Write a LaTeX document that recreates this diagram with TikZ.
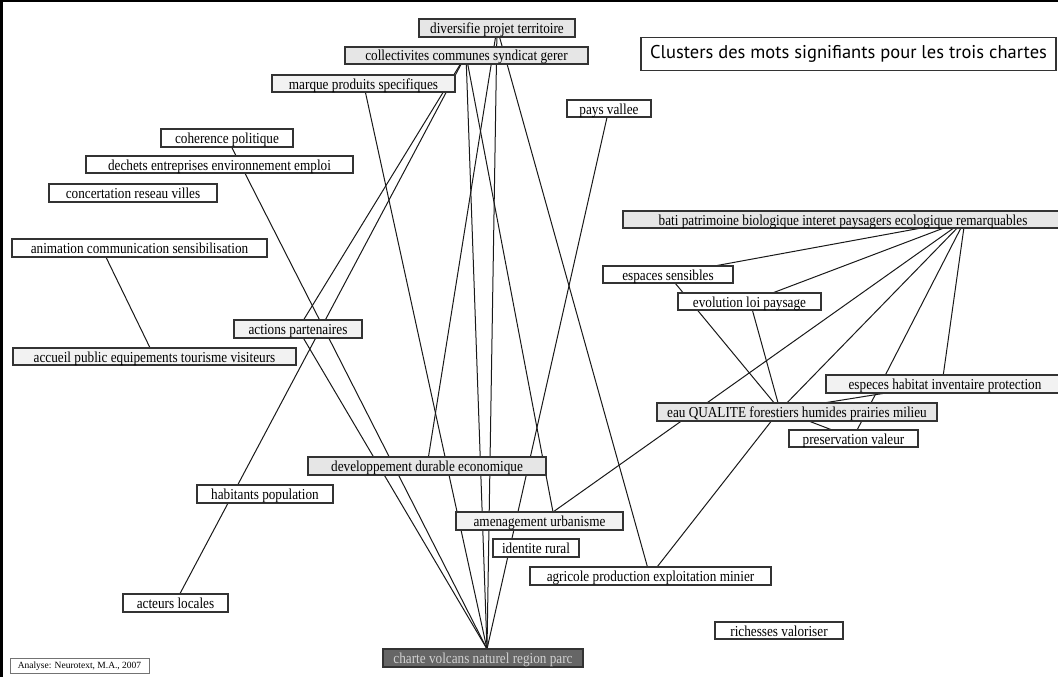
\documentclass[tikz,border=0pt]{standalone}
\usepackage{fontspec}
\setmainfont{Liberation Serif}
\newfontfamily\lblfont[FakeStretch=0.87]{Liberation Serif}
\newfontfamily\titlefont{PT Sans}
\pgfdeclarelayer{bg}
\pgfsetlayers{bg,main}
\definecolor{lg}{HTML}{E6E6E6}
\definecolor{vlg}{HTML}{F2F2F2}
\definecolor{dg}{HTML}{666666}
\definecolor{bd}{HTML}{333333}
\tikzset{
  box/.style={draw=bd, line width=1.1pt, rectangle, inner sep=0pt, fill=white,
    text height=13pt, text depth=2pt, font=\lblfont\fontsize{15.2}{17}\selectfont},
  edge/.style={draw=black!90, line width=1pt},
  frameline/.style={draw=black, line width=2.5pt}
}
\begin{document}
\begin{tikzpicture}[x=1pt,y=-1pt]
\useasboundingbox (0,0) rectangle (1058,677);
\coordinate (f-tl) at (0,1.25);
\coordinate (f-tr) at (1058,1.25);
\coordinate (f-bl) at (1.25,677);
\draw[frameline] (f-bl) -- (1.25,1.25) -- (f-tr);

% label boxes
\node[box, fill=lg,  minimum width=156pt, minimum height=18pt] (div)   at (497,28)    {diversifie projet territoire};
\node[box, fill=lg,  minimum width=243pt, minimum height=17pt] (col)   at (466.5,55.5){collectivites communes syndicat gerer};
\node[box, fill=vlg, minimum width=183pt, minimum height=17pt] (mar)   at (363.5,83.5){marque produits specifiques};
\node[draw=bd, line width=1.1pt, fill=white, inner sep=0pt, minimum width=415pt, minimum height=33pt,
      font=\titlefont\fontsize{18.5}{20}\selectfont] (title) at (848.5,54) {Clusters des mots signifiants pour les trois chartes};
\node[box, minimum width=84pt,  minimum height=17pt] (pays)  at (609,108.5) {pays vallee};
\node[box, minimum width=132pt, minimum height=18pt] (coh)   at (227,138)   {coherence politique};
\node[box, minimum width=267pt, minimum height=17pt] (dech)  at (219.5,164.5){dechets entreprises environnement emploi};
\node[box, minimum width=168pt, minimum height=18pt] (conc)  at (133,193)   {concertation reseau villes};
\node[box, minimum width=255pt, minimum height=18pt] (anim)  at (139.5,248) {animation communication sensibilisation};
\node[box, fill=lg, minimum width=440pt, minimum height=17pt] (bati) at (843,219.5) {bati patrimoine biologique interet paysagers ecologique remarquables};
\node[box, minimum width=130pt, minimum height=17pt] (esp)   at (668,274.5) {espaces sensibles};
\node[box, minimum width=143pt, minimum height=17pt] (evo)   at (749.5,301.5){evolution loi paysage};
\node[box, fill=vlg, minimum width=128pt, minimum height=18pt] (act) at (298,329) {actions partenaires};
\node[box, fill=vlg, minimum width=283pt, minimum height=17pt] (acc) at (154.5,356.5) {accueil public equipements tourisme visiteurs};
\node[box, fill=vlg, minimum width=238pt, minimum height=18pt] (esc) at (945,384) {especes habitat inventaire protection};
\node[box, fill=lg,  minimum width=280pt, minimum height=18pt] (eau) at (797,412) {eau QUALITE forestiers humides prairies milieu};
\node[box, minimum width=129pt, minimum height=17pt] (pres)  at (853.5,438.5){preservation valeur};
\node[box, fill=lg,  minimum width=238pt, minimum height=18pt] (dev) at (427,466) {developpement durable economique};
\node[box, minimum width=136pt, minimum height=18pt] (hab)   at (265,494)   {habitants population};
\node[box, fill=vlg, minimum width=167pt, minimum height=18pt] (amen) at (539.5,521) {amenagement urbanisme};
\node[box, minimum width=86pt,  minimum height=18pt] (ident) at (536,548)   {identite rural};
\node[box, minimum width=241pt, minimum height=18pt] (agr)   at (650.5,576) {agricole production exploitation minier};
\node[box, minimum width=105pt, minimum height=18pt] (actl)  at (175.5,603) {acteurs locales};
\node[box, minimum width=128pt, minimum height=17pt] (rich)  at (779,630.5) {richesses valoriser};
\node[box, fill=dg, text=black!18, minimum width=200pt, minimum height=18pt] (charte) at (483,658) {charte volcans naturel region parc};
\node[draw=black!55, line width=0.7pt, fill=white, inner sep=0pt, minimum width=139pt, minimum height=15pt,
      text height=8pt, text depth=2pt, font=\fontsize{9.5}{11}\selectfont] (ana) at (79.5,665.5) {Analyse: Neurotext, M.A., 2007};

% graph vertices
\coordinate (p-div)  at (497,28);
\coordinate (p-col)  at (466,55);
\coordinate (p-mar)  at (363.5,83.5);
\coordinate (p-pays) at (609,108.5);
\coordinate (p-coh)  at (227,138);
\coordinate (p-anim) at (102,249);
\coordinate (p-act)  at (298,329);
\coordinate (p-acc)  at (154,356);
\coordinate (p-bati) at (965,220);
\coordinate (p-esp)  at (668,274.5);
\coordinate (p-evo)  at (750,301.5);
\coordinate (p-eau)  at (780,410);
\coordinate (p-esc)  at (942,384);
\coordinate (p-pres) at (853,438);
\coordinate (p-dev)  at (427,466);
\coordinate (p-amen) at (553,512);
\coordinate (p-agr)  at (650,576);
\coordinate (p-actl) at (175,603);
\coordinate (p-ch)   at (487,649);

\begin{pgfonlayer}{bg}
\draw[edge] (p-coh) -- (p-ch);
\draw[edge] (p-anim) -- (p-acc);
\draw[edge] (p-act) -- (p-ch);
\draw[edge] (p-col) -- (p-actl);
\draw[edge] (p-col) -- (p-act);
\draw[edge] (p-col) -- (p-ch);
\draw[edge] (p-col) -- (p-amen);
\draw[edge] (p-div) -- (p-dev);
\draw[edge] (p-div) -- (p-ch);
\draw[edge] (p-div) -- (p-agr);
\draw[edge] (p-mar) -- (p-ch);
\draw[edge] (p-pays) -- (p-ch);
\draw[edge] (p-bati) -- (p-esp);
\draw[edge] (p-bati) -- (p-evo);
\draw[edge] (p-bati) -- (p-eau);
\draw[edge] (p-bati) -- (p-amen);
\draw[edge] (p-bati) -- (p-pres);
\draw[edge] (p-bati) -- (p-esc);
\draw[edge] (p-esp) -- (p-eau);
\draw[edge] (p-evo) -- (p-eau);
\draw[edge] (p-eau) -- (p-esc);
\draw[edge] (p-eau) -- (p-pres);
\draw[edge] (p-eau) -- (p-agr);
\end{pgfonlayer}
\end{tikzpicture}
\end{document}
